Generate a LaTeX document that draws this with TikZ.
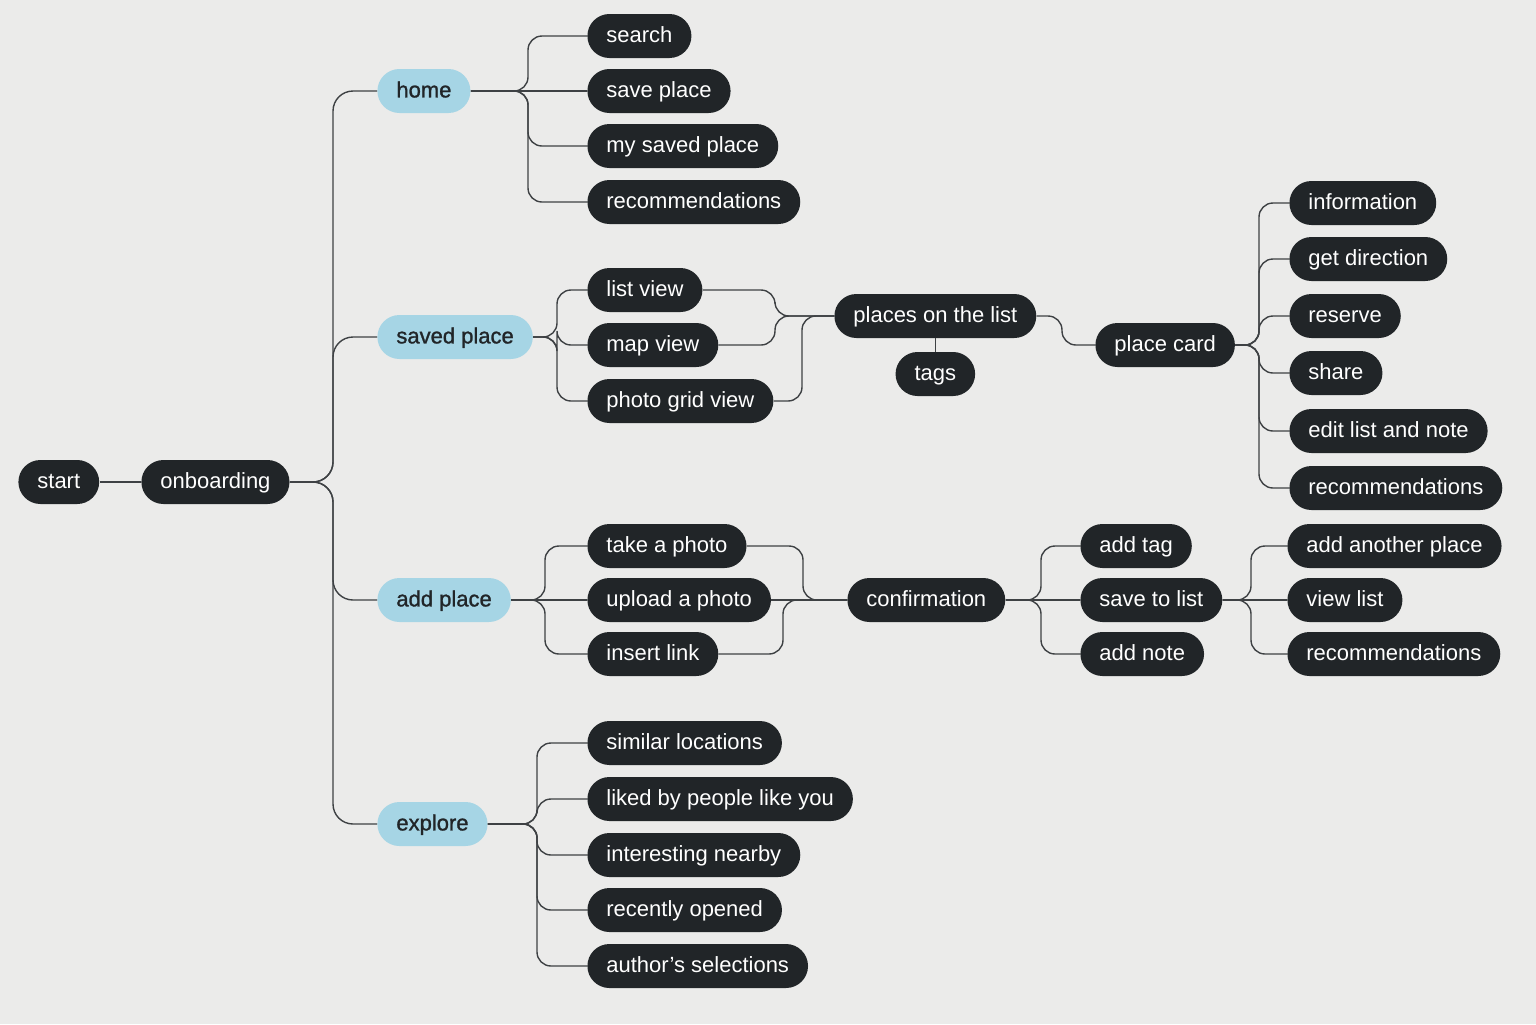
\documentclass[tikz,border=0pt]{standalone}
\usepackage{fontspec}
\setmainfont{Liberation Sans}
\newfontfamily\medfont[FakeBold=1.2]{Liberation Sans}
\usepackage{tikz}
\usetikzlibrary{calc}
\definecolor{mapInk}{RGB}{33,37,40}
\definecolor{mapSky}{RGB}{166,213,229}
\definecolor{mapPaper}{RGB}{235,235,234}
\definecolor{mapLine}{RGB}{62,65,68}

\begin{document}
\begin{tikzpicture}[x=0.5pt,y=-0.5pt,
  pill/.style={rounded corners=11pt,minimum height=22pt,inner xsep=9.5pt,inner ysep=0pt,
    text height=8.6pt,text depth=2.2pt,font=\fontsize{11}{13}\selectfont},
  dark/.style={pill,fill=mapInk,text=white},
  sky/.style={pill,fill=mapSky,text=mapInk,font=\fontsize{11}{13}\medfont},
  link/.style={draw=mapLine,line width=0.7pt,rounded corners=7pt}]
  \fill[mapPaper] (0,0) rectangle (1536,1024);
  \useasboundingbox (0,0) rectangle (1536,1024);

  % main spine
  \node[dark,anchor=west] (start) at (18,482) {start};
  \node[dark,anchor=west] (onb) at (141,482) {onboarding};
  \foreach \n/\y/\t in {home/91/home,saved/337/saved place,addp/600/add place,explore/824/explore}
    \node[sky,anchor=west] (\n) at (377,\y) {\t};

  % leaves of the sections
  \foreach \n/\y/\t in {search/36/search,savepl/91/save place,mysaved/146/my saved place,homerec/202/recommendations,
      listv/290/list view,mapv/345/map view,gridv/401/photo grid view,
      take/546/take a photo,upload/600/upload a photo,insert/654/insert link,
      similar/743/similar locations,liked/799/liked by people like you,near/855/interesting nearby,
      recent/910/recently opened,author/966/author's selections}
    \node[dark,anchor=west] (\n) at (587,\y) {\t};

  \node[dark,anchor=west] (places) at (834,316) {places on the list};
  \node[dark] (tags) at ($(places.center)+(0,58)$) {tags};
  \node[dark,anchor=west] (card) at (1095,345) {place card};
  \foreach \n/\y/\t in {info/203/information,getdir/259/get direction,reserve/316/reserve,
      share/373/share,editl/431/edit list and note,cardrec/488/recommendations}
    \node[dark,anchor=west] (\n) at (1289,\y) {\t};

  \node[dark,anchor=west] (confirm) at (847,600) {confirmation};
  \foreach \n/\y/\t in {addtag/546/add tag,savel/600/save to list,addnote/654/add note}
    \node[dark,anchor=west] (\n) at (1080,\y) {\t};
  \foreach \n/\y/\t in {another/546/add another place,viewl/600/view list,listrec/654/recommendations}
    \node[dark,anchor=west] (\n) at (1287,\y) {\t};

  % connectors
  \draw[link] (start) -- (onb);
  \foreach \c in {home,saved,addp,explore}
    \draw[link,rounded corners=10pt] (onb.east) -| ($(\c.west)+(-44,0)$) -- (\c.west);
  \foreach \c in {search,mysaved,homerec}
    \draw[link] (home.east) -| ($(\c.west)+(-59,0)$) -- (\c.west);
  \draw[link] (home) -- (savepl);
  \foreach \c in {listv,mapv,gridv}
    \draw[link] (saved.east) -| ($(\c.west)+(-30,0)$) -- (\c.west);
  \foreach \c in {take,insert}
    \draw[link] (addp.east) -| ($(\c.west)+(-42,0)$) -- (\c.west);
  \draw[link] (addp) -- (upload);
  \foreach \c in {similar,liked,near,recent,author}
    \draw[link] (explore.east) -| ($(\c.west)+(-50,0)$) -- (\c.west);

  \draw[link] (listv.east) -| ($(places.west)+(-59,0)$) -- (places.west);
  \draw[link] (mapv.east) -| ($(places.west)+(-59,0)$) -- (places.west);
  \draw[link] (gridv.east) -| ($(places.west)+(-32,0)$) -- (places.west);
  \draw[link] (places) -- (tags);
  \draw[link] (places.east) -| ($(card.west)+(-33,0)$) -- (card.west);
  \foreach \c in {info,getdir,reserve,share,editl,cardrec}
    \draw[link] (card.east) -| ($(\c.west)+(-30,0)$) -- (\c.west);

  \draw[link] (take.east) -| ($(confirm.west)+(-44,0)$) -- (confirm.west);
  \draw[link] (upload) -- (confirm);
  \draw[link] (insert.east) -| ($(confirm.west)+(-64,0)$) -- (confirm.west);
  \foreach \c in {addtag,addnote}
    \draw[link] (confirm.east) -| ($(\c.west)+(-39,0)$) -- (\c.west);
  \draw[link] (confirm) -- (savel);
  \foreach \c in {another,listrec}
    \draw[link] (savel.east) -| ($(\c.west)+(-36,0)$) -- (\c.west);
  \draw[link] (savel) -- (viewl);
\end{tikzpicture}
\end{document}
